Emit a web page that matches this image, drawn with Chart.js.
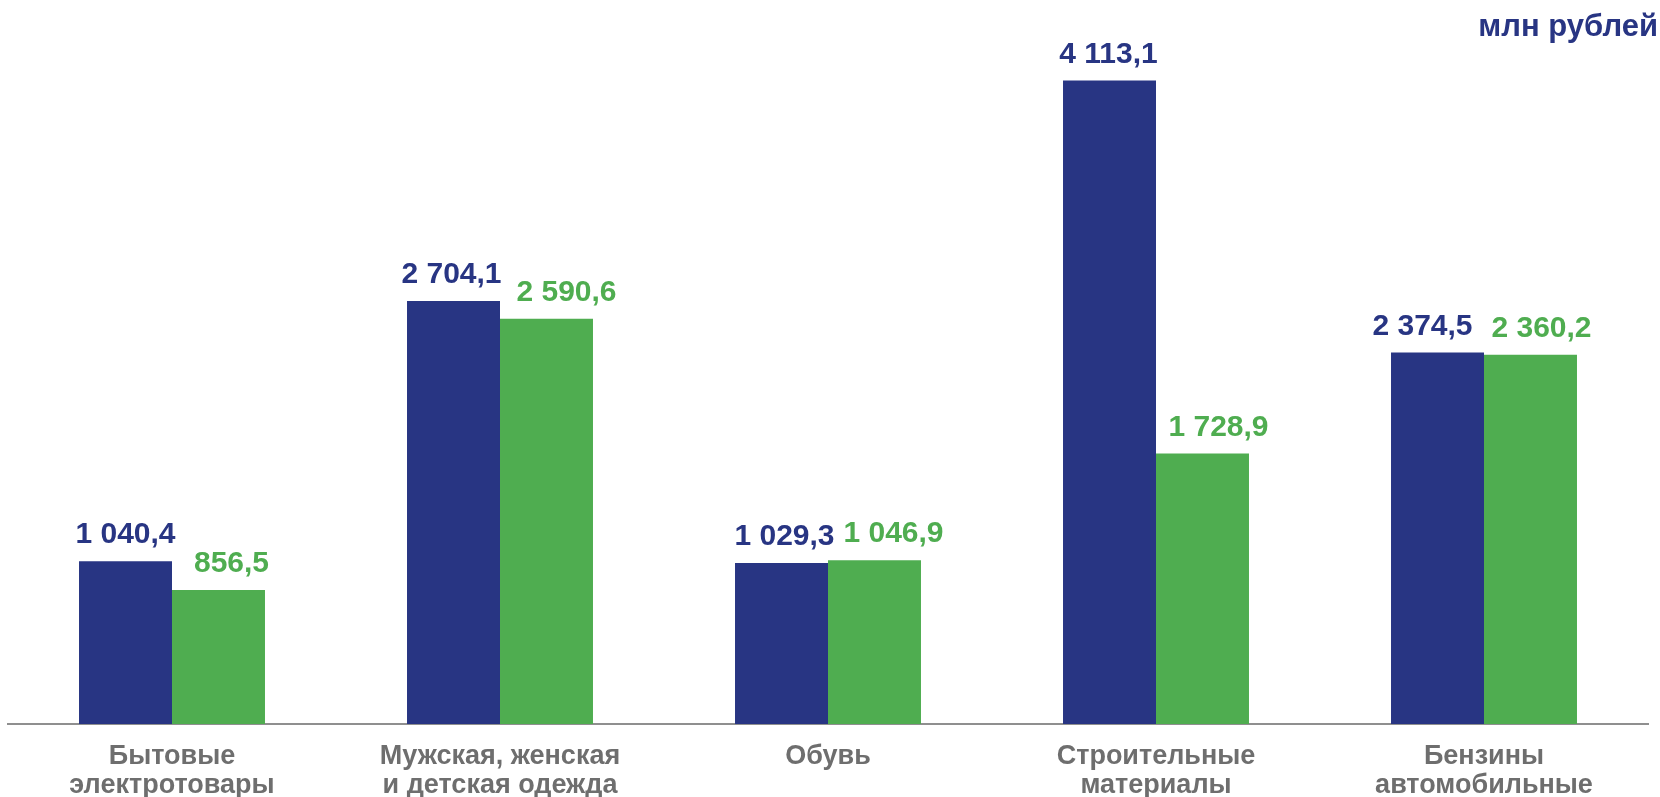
<!DOCTYPE html>
<html lang="ru">
<head>
<meta charset="utf-8">
<script src="https://cdn.jsdelivr.net/npm/chart.js@4"></script>
<style>
  html, body { margin: 0; padding: 0; background: #fff; overflow: hidden; }
  #wrap { width: 1660px; height: 818px; position: relative; }
</style>
</head>
<body>
<div id="wrap"><canvas id="grafico"></canvas></div>
<script>
// =====================
// DATOS
// =====================
const categorias = [
  ["Бытовые", "электротовары"],
  ["Мужская, женская", "и детская одежда"],
  ["Обувь"],
  ["Строительные", "материалы"],
  ["Бензины", "автомобильные"]
];
const serie1 = [1040.4, 2704.1, 1029.3, 4113.1, 2374.5];
const serie2 = [856.5, 2590.6, 1046.9, 1728.9, 2360.2];
const unidad = "млн рублей";

const AZUL = "#283583";
const VERDE = "#4fad50";
const GRIS = "#6e6e6e";

// desplazamiento horizontal de las etiquetas (como en el original)
const dxEtiquetas = [
  [0, -2, 3, -1, -15],
  [13, 20, 19, 16, 11]
];

function formatear(v) {
  const [ent, dec] = v.toFixed(1).split(".");
  return ent.replace(/\B(?=(\d{3})+(?!\d))/g, " ") + "," + dec;
}

// etiquetas sobre las barras + unidad arriba a la derecha
const etiquetas = {
  id: "etiquetas",
  afterDatasetsDraw(chart) {
    const ctx = chart.ctx;
    ctx.save();
    ctx.font = "bold 30px 'Liberation Sans', Arial, sans-serif";
    ctx.textAlign = "center";
    ctx.textBaseline = "alphabetic";
    chart.data.datasets.forEach((ds, i) => {
      const meta = chart.getDatasetMeta(i);
      meta.data.forEach((bar, j) => {
        ctx.fillStyle = ds.backgroundColor;
        ctx.fillText(formatear(ds.data[j]), bar.x + dxEtiquetas[i][j], bar.y - 18);
      });
    });
    ctx.font = "bold 31px 'Liberation Sans', Arial, sans-serif";
    ctx.fillStyle = AZUL;
    ctx.textAlign = "right";
    ctx.fillText(unidad, chart.width - 2, 36);
    ctx.restore();
  }
};

new Chart(document.getElementById("grafico"), {
  type: "bar",
  data: {
    labels: categorias,
    datasets: [
      { data: serie1, backgroundColor: AZUL, categoryPercentage: 0.567, barPercentage: 1 },
      { data: serie2, backgroundColor: VERDE, categoryPercentage: 0.567, barPercentage: 1 }
    ]
  },
  options: {
    responsive: true,
    maintainAspectRatio: false,
    animation: false,
    layout: { padding: { top: 20, left: 8, right: 12, bottom: 0 } },
    plugins: { legend: { display: false }, tooltip: { enabled: false } },
    scales: {
      x: {
        grid: { display: false, drawTicks: false },
        border: { color: "#8f8f8f", width: 2 },
        ticks: {
          color: GRIS,
          padding: 18,
          maxRotation: 0,
          autoSkip: false,
          font: { family: "'Liberation Sans', Arial, sans-serif", size: 27, weight: "bold", lineHeight: "29px" }
        }
      },
      y: {
        display: false,
        min: 0,
        max: 4500
      }
    }
  },
  plugins: [etiquetas]
});
</script>
</body>
</html>
